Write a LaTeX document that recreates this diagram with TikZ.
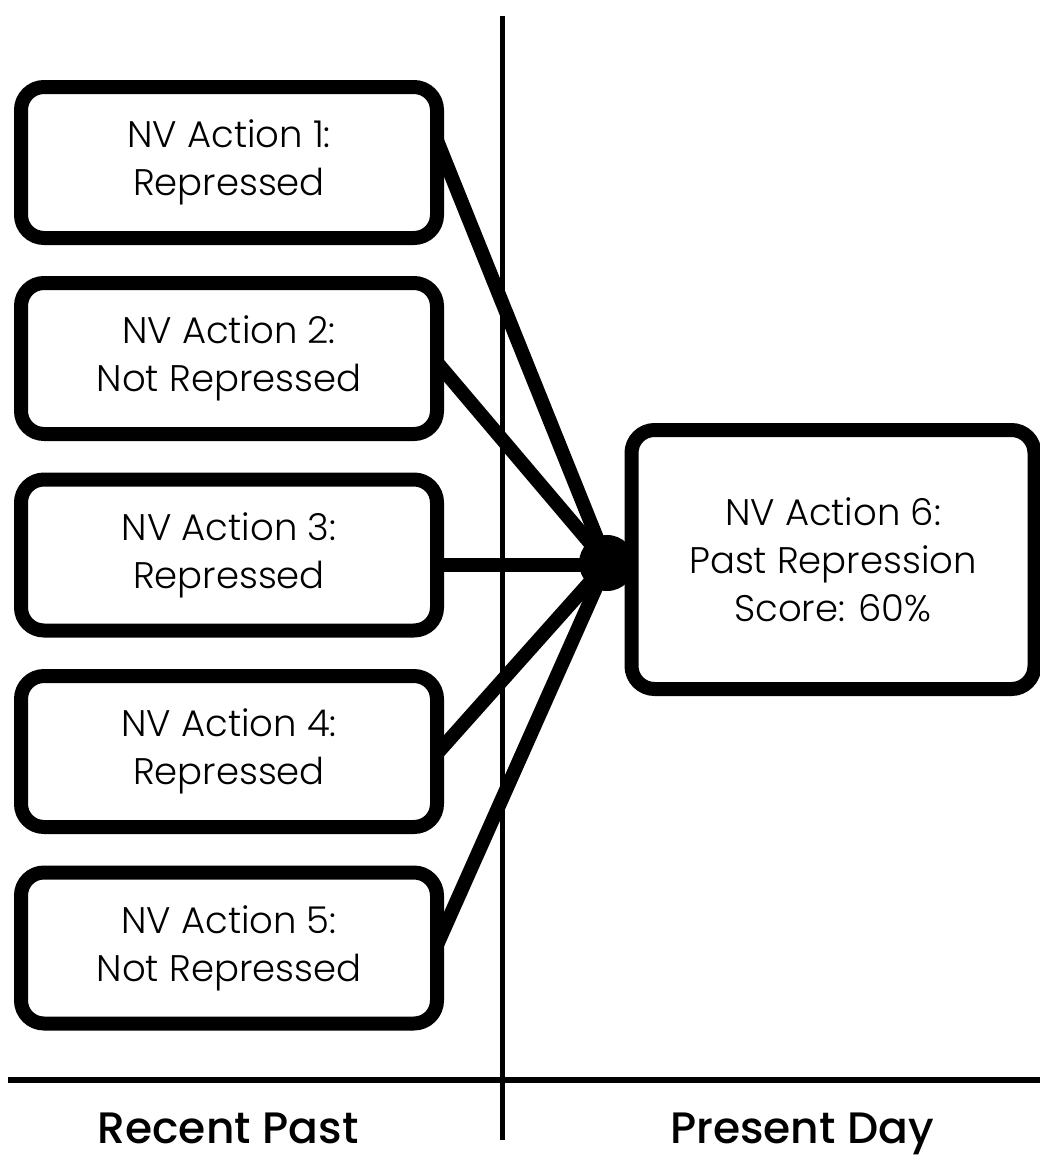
\documentclass[tikz,border=0pt]{standalone}
\usepackage{fontspec}
\usetikzlibrary{calc}
\newfontfamily\lightf{Poppins Light}
\newfontfamily\regf{Poppins Medium}
\begin{document}
\begin{tikzpicture}[x=1pt,y=-1pt,
  actbox/.style={draw=black, line width=14pt, rounded corners=23pt, outer sep=0pt, inner sep=0pt,
    minimum width=416pt, minimum height=151pt, align=center,
    font={\lightf\fontsize{37}{48}\selectfont}},
  link/.style={line width=14pt, line cap=butt},
  axis/.style={line width=5pt},
  lbl/.style={font={\regf\fontsize{44}{54}\selectfont}, inner sep=0pt, anchor=base}]
\useasboundingbox (0,0) rectangle (1040,1173);
% axes
\coordinate (vtop) at (502,16);
\coordinate (vbot) at (502,1140);
\coordinate (hl) at (8,1080);
\coordinate (hr) at (1040,1080);
\draw[axis] (vtop) -- (vbot);
\draw[line width=6pt] (hl) -- (hr);
% hub
\node[circle, fill=black, minimum size=56pt, inner sep=0pt] (hub) at (607,563) {};
% boxes
\node[actbox] (b1) at (229,162.5) {NV Action 1:\\Repressed};
\node[actbox] (b2) at (229,358.5) {NV Action 2:\\Not Repressed};
\node[actbox] (b3) at (229,555) {NV Action 3:\\Repressed};
\node[actbox] (b4) at (229,751.5) {NV Action 4:\\Repressed};
\node[actbox] (b5) at (229,948) {NV Action 5:\\Not Repressed};
\node[actbox, minimum width=403pt, minimum height=259pt] (b6) at (833,559.5) {NV Action 6:\\Past Repression\\Score: 60\%};
% connectors
\coordinate (h3) at ($(hub.center)+(0,2)$);
\draw[link] ($(b1.east)+(0,-22)$) -- (hub.center);
\draw[link] ($(b2.east)+(0,4)$) -- (hub.center);
\draw[link] ($(b3.east)+(0,10)$) -- (h3);
\draw[link] ($(b4.east)+(0,2)$) -- (hub.center);
\draw[link] ($(b5.east)+(0,-3)$) -- (hub.center);
% labels
\node[lbl] (past) at (228,1143) {Recent Past};
\node[lbl] (present) at (802,1143) {Present Day};
\end{tikzpicture}
\end{document}
